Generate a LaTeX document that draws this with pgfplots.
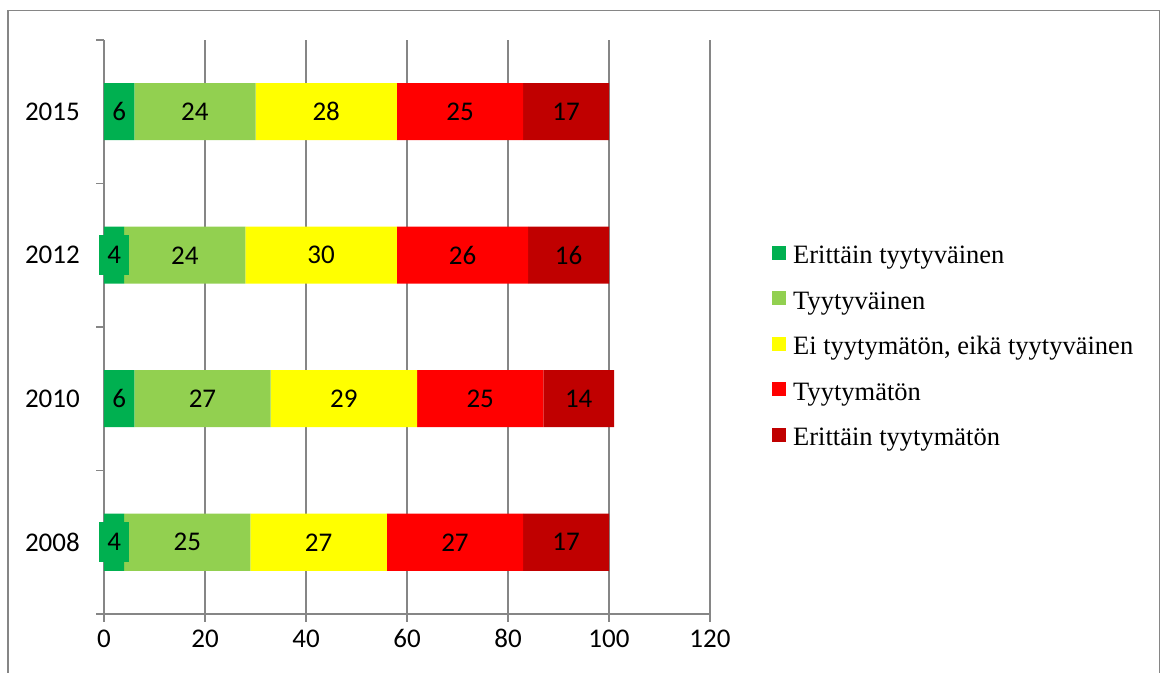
\documentclass[border=0pt]{standalone}
\usepackage{pgfplots}
\pgfplotsset{compat=1.18}
\usepackage{fontspec}
\setmainfont{Carlito}
\newfontfamily\legendfont{Liberation Serif}
\definecolor{vgreen}{HTML}{00B050}
\definecolor{lgreen}{HTML}{92D050}
\definecolor{neutral}{HTML}{FFFF00}
\definecolor{dissat}{HTML}{FF0000}
\definecolor{vdissat}{HTML}{C00000}
\definecolor{axisgray}{HTML}{868686}

\begin{document}
\begin{tikzpicture}
\useasboundingbox (0,0) rectangle (1164pt,672pt);
\draw[axisgray, line width=1.5pt] (8pt,-10pt) -- (8pt,661.5pt) -- (1159.5pt,661.5pt) -- (1159.5pt,-10pt);
% stacked bars: y = 0 (2008), 1 (2010), 2 (2012), 3 (2015)
\begin{axis}[
  at={(104pt,58pt)}, anchor=south west,
  scale only axis, width=606pt, height=574pt,
  xbar stacked, bar width=57pt,
  xmin=0, xmax=120, ymin=-0.5, ymax=3.5,
  xtick={0,20,...,120},
  ytick={-0.5,0.5,1.5,2.5,3.5}, yticklabels={},
  extra y ticks={0,1,2,3},
  extra y tick labels={2008,2010,2012,2015},
  extra y tick style={major tick length=0pt, grid=none,
    yticklabel style={inner sep=0pt, xshift=-24pt}},
  axis x line*=bottom, axis y line*=left,
  axis line style={axisgray, line width=1.3pt, -},
  tick style={axisgray, line width=1.3pt},
  tick align=outside, major tick length=7.5pt,
  xmajorgrids, grid style={axisgray, line width=1.3pt},
  tick label style={font=\fontsize{27}{31}\selectfont, black},
  xticklabel style={inner sep=0pt, text height=18pt, text depth=0pt, anchor=north, yshift=-8pt},
  /pgf/number format/assume math mode=true,
  legend style={at={(1,0.5)}, anchor=west, xshift=62pt, yshift=-22pt,
    draw=none, fill=none, inner sep=0pt,
    font=\legendfont\fontsize{26.5}{30}\selectfont,
    row sep=21.5pt,
    nodes={inner sep=0pt, text height=18pt, text depth=6pt},
    /tikz/every odd column/.append style={column sep=7pt}},
  legend cell align=left,
  legend image code/.code={\fill (0pt,-2pt) rectangle (14pt,12pt);},
]
\addplot[draw=none, fill=vgreen] coordinates {(4,0) (6,1) (4,2) (6,3)};
\addlegendentry{Erittäin tyytyväinen}
\addplot[draw=none, fill=lgreen] coordinates {(25,0) (27,1) (24,2) (24,3)};
\addlegendentry{Tyytyväinen}
\addplot[draw=none, fill=neutral] coordinates {(27,0) (29,1) (30,2) (28,3)};
\addlegendentry{Ei tyytymätön, eikä tyytyväinen}
\addplot[draw=none, fill=dissat] coordinates {(27,0) (25,1) (26,2) (25,3)};
\addlegendentry{Tyytymätön}
\addplot[draw=none, fill=vdissat] coordinates {(17,0) (14,1) (16,2) (17,3)};
\addlegendentry{Erittäin tyytymätön}
\end{axis}
% value labels, centred in each segment
\begin{axis}[
  at={(104pt,58pt)}, anchor=south west,
  scale only axis, width=606pt, height=574pt,
  xmin=0, xmax=120, ymin=-0.5, ymax=3.5,
  hide axis,
  nodes near coords,
  point meta=explicit symbolic,
  every node near coord/.append style={anchor=center, font=\fontsize{27}{31}\selectfont, black},
]
\addplot[only marks, mark=none,
  every node near coord/.append style={fill=vgreen, minimum width=30pt, minimum height=40pt, inner sep=0pt}]
  table[meta=v] {
x y v
2 0 4
3 1 6
2 2 4
3 3 6
};
\addplot[only marks, mark=none] table[meta=v] {
x y v
16.5 0 25
19.5 1 27
16 2 24
18 3 24
42.5 0 27
47.5 1 29
43 2 30
44 3 28
69.5 0 27
74.5 1 25
71 2 26
70.5 3 25
91.5 0 17
94 1 14
92 2 16
91.5 3 17
};
\end{axis}
\end{tikzpicture}
\end{document}
